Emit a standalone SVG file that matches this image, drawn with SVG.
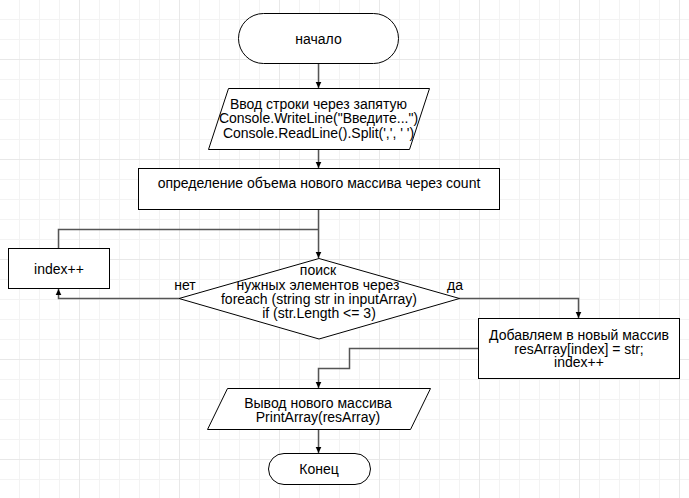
<svg xmlns="http://www.w3.org/2000/svg" width="689" height="498" viewBox="0 0 689 498">
<style>
.s{fill:#fff;stroke:#000;stroke-width:1}
.t{font-family:"Liberation Sans",Arial,sans-serif;font-size:14px;fill:#000;text-anchor:middle}
.c{fill:none;stroke:#555;stroke-width:1.5}
.ca{fill:none;stroke:#555;stroke-width:1.5;marker-end:url(#arr)}
</style>
<defs>
<pattern id="gmin" patternUnits="userSpaceOnUse" x="19" y="19" width="20" height="20">
<path d="M0.5 0V20M0 0.5H20" stroke="#f3f3f3" stroke-width="1" fill="none"/>
</pattern>
<pattern id="gmaj" patternUnits="userSpaceOnUse" x="79" y="59" width="100" height="100">
<path d="M0.5 0V100M0 0.5H100" stroke="#e8e8e8" stroke-width="1" fill="none"/>
</pattern>
<marker id="arr" markerWidth="8" markerHeight="8" refX="6" refY="4" orient="auto" markerUnits="userSpaceOnUse">
<path d="M0 1.2L6 4L0 6.8Z" fill="#000"/>
</marker>
</defs>
<rect width="689" height="498" fill="#fff"/>
<rect width="689" height="498" fill="url(#gmin)"/>
<rect width="689" height="498" fill="url(#gmaj)"/>
<g id="connectors">
<path class="ca" d="M318.5 63V88"/>
<path class="ca" d="M318.5 149V168"/>
<path class="ca" d="M318.5 209V258"/>
<path class="c" d="M58.5 248V229.5H318.5"/>
<path class="ca" d="M179 298.5H58.5V289"/>
<path class="ca" d="M459 298.5H578.5V318"/>
<path class="ca" d="M478 348.5H349.5V368.5H318.5V388"/>
<path class="ca" d="M318.5 429V453"/>
</g>
<g id="start">
<rect class="s" x="238.5" y="13.5" width="160" height="50" rx="25"/>
<text class="t" x="318.5" y="44">начало</text>
</g>
<g id="input">
<polygon class="s" points="228.5,88.5 429.5,88.5 409.5,149.5 208.5,149.5"/>
<text class="t" x="318.5" y="109">Ввод строки через запятую</text>
<text class="t" x="318.5" y="123.4">Console.WriteLine("Введите...")</text>
<text class="t" x="318.5" y="137.8">Console.ReadLine().Split(',', ' ')</text>
</g>
<g id="count">
<rect class="s" x="138.5" y="168.5" width="361" height="41"/>
<text class="t" x="319" y="188">определение объема нового массива через count</text>
</g>
<g id="index">
<rect class="s" x="8.5" y="248.5" width="101" height="40"/>
<text class="t" x="59" y="274">index++</text>
</g>
<g id="decision">
<polygon class="s" points="319,258.5 459.5,298.5 319,339 179,298.5"/>
<text class="t" x="318" y="275">поиск</text>
<text class="t" x="318" y="289.5">нужных элементов через</text>
<text class="t" x="319" y="304">foreach (string str in inputArray)</text>
<text class="t" x="319" y="318">if (str.Length &lt;= 3)</text>
</g>
<g id="labels">
<text class="t" x="185" y="289.5">нет</text>
<text class="t" x="455" y="289.5">да</text>
</g>
<g id="add">
<rect class="s" x="478.5" y="318.5" width="201" height="60"/>
<text class="t" x="579" y="340">Добавляем в новый массив</text>
<text class="t" x="579" y="353.5">resArray[index] = str;</text>
<text class="t" x="579" y="367">index++</text>
</g>
<g id="output">
<polygon class="s" points="227.5,388.5 430.5,388.5 410.5,429.5 207.5,429.5"/>
<text class="t" x="318" y="408">Вывод нового массива</text>
<text class="t" x="318" y="422">PrintArray(resArray)</text>
</g>
<g id="end">
<rect class="s" x="268.5" y="453.5" width="102" height="31" rx="15.5"/>
<text class="t" x="319" y="474">Конец</text>
</g>
</svg>
